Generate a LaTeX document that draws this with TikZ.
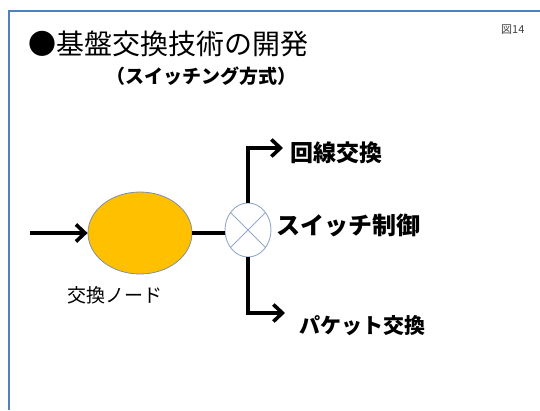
\documentclass[tikz,border=0pt]{standalone}
\usepackage{fontspec}
\setmainfont{Noto Sans CJK JP}
\usetikzlibrary{arrows.meta,shapes.geometric}
\definecolor{frameblue}{HTML}{4F81BD}
\definecolor{nodeorange}{HTML}{FFC000}
\definecolor{edgegray}{HTML}{7F8FA9}
\definecolor{switchblue}{HTML}{95A9CC}
\tikzset{
  flow/.style={line width=4pt, -{Straight Barb[length=9pt,width=17pt,line width=3.6pt]}},
  plain/.style={line width=4pt},
  lbl/.style={anchor=west, inner sep=0pt, font=\bfseries}
}
\begin{document}
\begin{tikzpicture}[x=1pt,y=-1pt]
\useasboundingbox (0,0) rectangle (540,410);
% frame
\draw[frameblue, line width=2.2pt] (9,410) -- (9,11) -- (541,11);
% titles
\node[anchor=west, inner sep=0pt, font=\fontsize{28}{30}\selectfont] (title) at (28,44) {●基盤交換技術の開発};
\node[anchor=west, inner sep=0pt, font=\fontsize{19}{20}\selectfont\bfseries] (sub) at (106,76) {（スイッチング方式）};
\node[anchor=west, inner sep=0pt, font=\fontsize{11}{12}\selectfont, text=black!75] (fig) at (501,30) {図14};
% nodes
\node[ellipse, draw=edgegray, line width=0.8pt, fill=nodeorange, minimum width=104pt, minimum height=82pt, inner sep=0pt] (xnode) at (140,233) {};
\node[ellipse, draw=switchblue, line width=0.9pt, fill=white, minimum width=46pt, minimum height=54pt, inner sep=0pt] (sw) at (248,230) {};
\draw[switchblue, line width=0.9pt] (sw.135) -- (sw.-45) (sw.45) -- (sw.-135);
% labels
\node[anchor=west, inner sep=0pt, font=\fontsize{19}{20}\selectfont] (xlbl) at (67,295) {交換ノード};
\node[lbl, font=\fontsize{23}{24}\selectfont\bfseries] (circ) at (290,153) {回線交換};
\node[lbl, font=\fontsize{24}{25}\selectfont\bfseries] (ctrl) at (276,225) {スイッチ制御};
\node[lbl, font=\fontsize{21}{22}\selectfont\bfseries] (pkt) at (299,326) {パケット交換};
% connectors
\coordinate (in) at (30,233);
\coordinate (outA) at (283,148);
\coordinate (outB) at (285,313);
\draw[flow] (in) -- (xnode.west);
\draw[plain] (xnode.east) -- (xnode.east -| sw.west);
\draw[flow] (sw.north) |- (outA);
\draw[flow] (sw.south) |- (outB);
\end{tikzpicture}
\end{document}
